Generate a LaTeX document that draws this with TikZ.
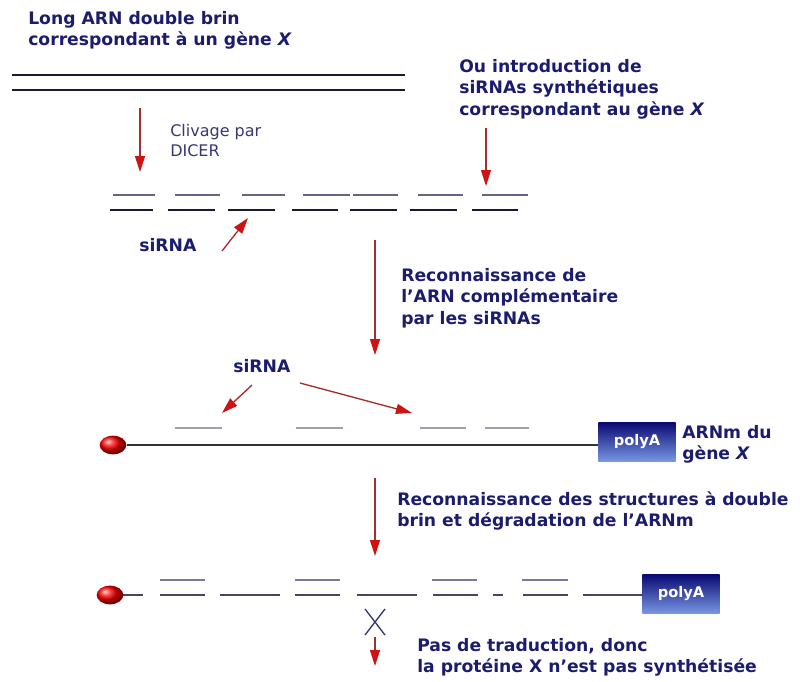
\documentclass[tikz,border=0pt]{standalone}
\usepackage{fontspec}
\setmainfont{DejaVu Sans}
\usetikzlibrary{arrows.meta,shapes.geometric}
\definecolor{navy}{RGB}{28,28,110}
\definecolor{navylight}{RGB}{55,55,115}
\definecolor{strdark}{RGB}{25,25,50}
\definecolor{strtop}{RGB}{100,100,140}
\definecolor{midline}{RGB}{50,50,60}
\definecolor{grayfrag}{RGB}{160,160,178}
\definecolor{botmain}{RGB}{70,70,100}
\definecolor{botup}{RGB}{120,120,160}
\definecolor{arrline}{RGB}{165,45,45}
\definecolor{arrhead}{RGB}{205,20,20}
\definecolor{padark}{RGB}{10,10,115}
\definecolor{palight}{RGB}{120,150,225}
\tikzset{
  lab/.style={font=\bfseries\fontsize{12.9}{16}\selectfont, text=navy, align=left, inner sep=0pt, anchor=north west},
  labreg/.style={font=\fontsize{12}{15}\selectfont, text=navylight, align=left, inner sep=0pt, anchor=north west},
  redarrow/.style={draw=arrline, line width=1pt, -{Triangle[width=7.5pt,length=12pt,color=arrhead]}},
  strand/.style={line width=1.1pt},
  polya/.style={rectangle, inner sep=0pt, minimum width=58pt, minimum height=29pt,
     top color=padark, bottom color=palight, text=white, font=\bfseries\fontsize{11}{12}\selectfont},
  capball/.style={ellipse, inner sep=0pt, minimum width=20pt, minimum height=14pt, ball color=red, draw=none}
}
\begin{document}
\begin{tikzpicture}[x=0.75pt,y=-0.75pt]
\useasboundingbox[fill=white] (0,0) rectangle (800,682);

% texts
\node[lab] (t1) at (28,11) {Long ARN double brin\\correspondant à un gène \textit{X}};
\node[labreg] (t2) at (170,124) {Clivage par\\DICER};
\node[lab] (t3) at (459,59) {Ou introduction de\\siRNAs synthétiques\\correspondant au gène \textit{X}};
\node[lab] (si1) at (139,238) {siRNA};
\node[lab] (t4) at (401,268) {Reconnaissance de\\l'ARN complémentaire\\par les siRNAs};
\node[lab] (si2) at (233,359) {siRNA};
\node[lab] (t5) at (682,425) {ARNm du\\gène \textit{X}};
\node[lab] (t6) at (397,491) {Reconnaissance des structures à double\\brin et dégradation de l'ARNm};
\node[lab] (t7) at (417,638) {Pas de traduction, donc\\la protéine X n'est pas synthétisée};

% long double strand
\draw[strand,strdark] (12,75) -- (405,75);
\draw[strand,strdark] (12,90) -- (405,90);

% cut fragments
\foreach \a/\b in {113/155,175/220,242/285,303/350,353/398,418/463,482/528}
  \draw[strand,strtop] (\a,195) -- (\b,195);
\foreach \a/\b in {110/153,168/215,228/275,292/338,350/397,410/457,472/518}
  \draw[strand,strdark] (\a,210) -- (\b,210);

% middle mRNA
\node[capball] (cap1) at (113,445) {};
\node[polya] (pa1) at (637,442) {polyA};
\draw[strand,midline] (cap1.east) -- (pa1.west |- cap1.east);
\foreach \a/\b in {175/222,296/343,420/466,485/529}
  \draw[strand,grayfrag] (\a,428) -- (\b,428);

% bottom degraded mRNA
\node[capball] (cap2) at (110,595) {};
\node[polya] (pa2) at (681,594) {polyA};
\foreach \a/\b in {160/205,295/340,432/477,522/568}
  \draw[strand,botup] (\a,580) -- (\b,580);
\foreach \a/\b in {123/143,160/205,220/280,295/340,357/417,433/478,493/503,523/568,583/643}
  \draw[strand,botmain] (\a,595) -- (\b,595);

% arrows
\coordinate (a1s) at (140,108); \coordinate (a1e) at (140,172);
\coordinate (a2s) at (486,128); \coordinate (a2e) at (486,186);
\coordinate (a3s) at (375,240); \coordinate (a3e) at (375,355);
\coordinate (a4s) at (375,478); \coordinate (a4e) at (375,556);
\coordinate (a5s) at (222,251); \coordinate (a5e) at (248,218);
\coordinate (a6s) at (252,385); \coordinate (a6e) at (222,413);
\coordinate (a7s) at (300,383); \coordinate (a7e) at (412,413);
\coordinate (a8s) at (375,637); \coordinate (a8e) at (375,666);
\draw[redarrow] (a1s) -- (a1e);
\draw[redarrow] (a2s) -- (a2e);
\draw[redarrow] (a3s) -- (a3e);
\draw[redarrow] (a4s) -- (a4e);
\draw[redarrow] (a5s) -- (a5e);
\draw[redarrow] (a6s) -- (a6e);
\draw[redarrow] (a7s) -- (a7e);
\draw[redarrow] (a8s) -- (a8e);

% cross
\coordinate (xc) at (375,622);
\draw[navylight, line width=1pt] ([shift={(-10,-13)}]xc) -- ([shift={(10,13)}]xc)
  ([shift={(10,-13)}]xc) -- ([shift={(-10,13)}]xc);
\end{tikzpicture}
\end{document}
